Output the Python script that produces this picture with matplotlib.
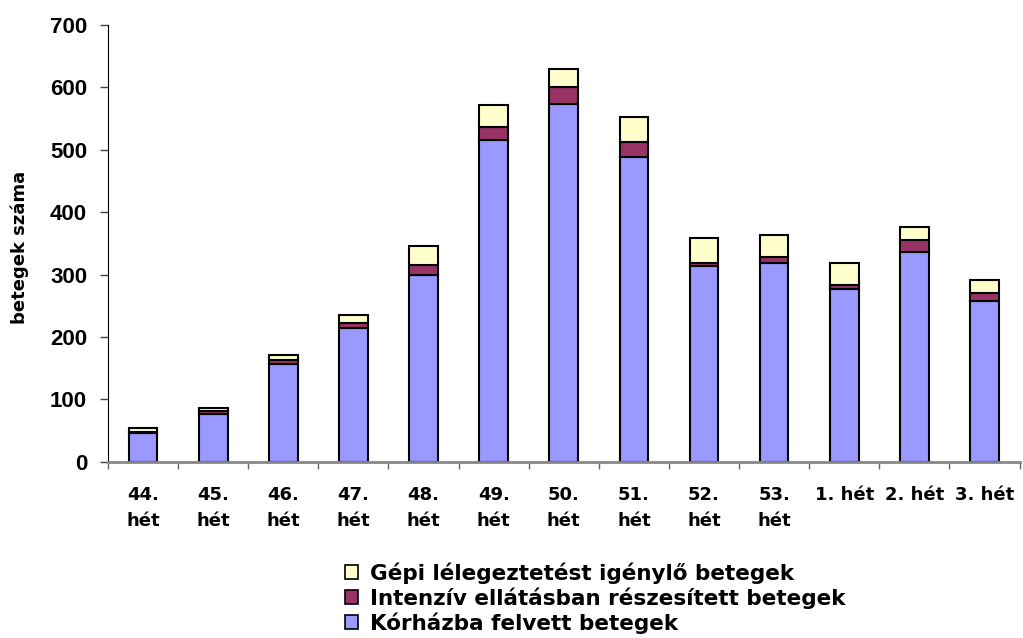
import numpy as np
import matplotlib.pyplot as plt
from matplotlib.patches import Patch

weeks = ["44.\nhét", "45.\nhét", "46.\nhét", "47.\nhét", "48.\nhét", "49.\nhét", "50.\nhét",
         "51.\nhét", "52.\nhét", "53.\nhét", "1. hét", "2. hét", "3. hét"]
korhaz = [47, 77, 157, 214, 300, 515, 573, 489, 313, 319, 277, 337, 258]
intenziv = [1, 4, 6, 8, 16, 21, 27, 23, 6, 9, 6, 19, 12]
gepi = [6, 5, 9, 13, 30, 35, 30, 40, 40, 36, 36, 21, 22]

c_blue = "#9999FF"
c_red = "#993366"
c_yellow = "#FFFFCC"

plt.rcParams['font.family'] = ['Liberation Sans', 'DejaVu Sans']
plt.rcParams['font.weight'] = 'bold'
wide = ['DejaVu Sans']

fig = plt.figure(figsize=(10.23, 6.38), dpi=100)
ax = fig.add_axes([0.1056, 0.276, 0.891, 0.685])

x = np.arange(len(weeks))
w = 0.41
korhaz = np.array(korhaz)
intenziv = np.array(intenziv)
gepi = np.array(gepi)
ax.bar(x, korhaz, w, color=c_blue, edgecolor="black", linewidth=1.5)
ax.bar(x, intenziv, w, bottom=korhaz, color=c_red, edgecolor="black", linewidth=1.5)
ax.bar(x, gepi, w, bottom=korhaz + intenziv, color=c_yellow, edgecolor="black", linewidth=1.5)

ax.set_xlim(-0.5, len(weeks) - 0.5)
ax.set_ylim(0, 700)
ax.set_yticks(range(0, 701, 100))
ax.tick_params(axis='y', labelsize=16, direction='out', length=6, width=1, color='#444444', pad=9)
for lab in ax.get_yticklabels():
    lab.set_fontweight('bold')

ax.set_xticks(x)
ax.set_xticklabels(weeks, fontsize=13, fontweight='bold', linespacing=1.6, family=wide)
ax.set_xticks(np.arange(-0.5, len(weeks), 1), minor=True)
ax.tick_params(axis='x', which='major', length=0, pad=17)
ax.tick_params(axis='x', which='minor', length=5, width=1, color='#666666')

ax.spines['top'].set_visible(False)
ax.spines['right'].set_visible(False)
ax.spines['bottom'].set_color('#888888')
ax.spines['bottom'].set_linewidth(2)
ax.spines['left'].set_color('black')

ax.set_ylabel("betegek száma", fontsize=13, fontweight='bold', family=wide)
ax.yaxis.set_label_coords(-0.087, 0.49)

handles = [Patch(facecolor=c_yellow, edgecolor='black', linewidth=1.2),
           Patch(facecolor=c_red, edgecolor='black', linewidth=1.2),
           Patch(facecolor=c_blue, edgecolor='black', linewidth=1.2)]
labels = ["Gépi lélegeztetést igénylő betegek",
          "Intenzív ellátásban részesített betegek",
          "Kórházba felvett betegek"]
fig.legend(handles, labels, loc='upper left', bbox_to_anchor=(0.337, 0.119), frameon=False,
           prop={'size': 15.5, 'weight': 'bold', 'family': wide}, handlelength=0.6, handleheight=0.6,
           handletextpad=0.55, labelspacing=0.17, borderaxespad=0, borderpad=0)

fig.savefig("out.png", dpi=100)
